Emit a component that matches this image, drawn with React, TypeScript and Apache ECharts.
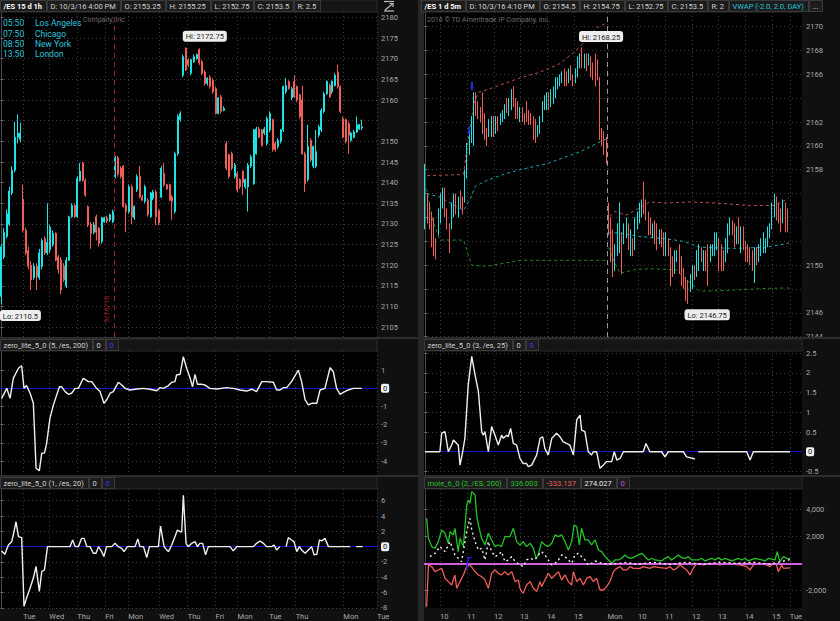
import React, { useEffect, useRef } from "react";
import * as echarts from "echarts";

// ---------------- DATA ----------------
// Left chart: /ES 15 d 1h  — [open, close, low, high]
const leftCandles: number[][] = [
  [2112.5, 2124.5, 2110.5, 2125], [2122, 2128, 2121.5, 2129], [2127, 2132.5, 2126.5, 2133.5],
  [2130, 2138, 2129.5, 2139], [2137.5, 2143, 2137, 2144], [2143, 2151, 2142.5, 2154.75],
  [2151, 2152, 2149.5, 2156.5], [2150.5, 2152, 2149.75, 2154.5], [2136, 2128.5, 2128, 2139.5],
  [2128.5, 2123, 2122.5, 2129], [2123.5, 2119.75, 2119, 2124.5], [2120, 2116.5, 2114, 2121],
  [2117, 2119.75, 2116.5, 2120.5], [2119.75, 2117.25, 2114, 2120.5], [2117, 2123, 2116.5, 2124],
  [2119.75, 2126, 2119, 2126.5], [2126.5, 2123, 2122.5, 2127], [2123, 2125.5, 2122.5, 2135],
  [2123.75, 2129.25, 2123, 2129.75], [2125, 2127.75, 2124.5, 2128.5], [2127.75, 2121.25, 2121, 2128],
  [2122, 2119, 2118, 2122.5], [2121.25, 2114, 2113, 2122], [2119.75, 2116.5, 2116, 2120.5],
  [2115, 2121.25, 2114.5, 2122], [2121.25, 2131.75, 2121, 2132], [2131.75, 2134.5, 2131.5, 2135],
  [2134.5, 2131.75, 2131.5, 2135], [2131.75, 2141, 2131.5, 2141.5], [2140.5, 2142.75, 2140.25, 2144.75],
  [2144.75, 2140.5, 2140.25, 2145], [2140.5, 2137, 2136.5, 2141], [2134.25, 2129.75, 2129.25, 2134.5],
  [2130, 2127.75, 2124, 2130.5], [2128, 2129.75, 2127.5, 2130.5], [2131.75, 2128, 2126, 2132.25],
  [2129, 2125.25, 2124.5, 2129.25], [2125.75, 2131.5, 2125.25, 2131.75], [2130.5, 2131.5, 2130.25, 2131.75],
  [2131.5, 2130.75, 2130.25, 2132], [2131, 2132.25, 2130.5, 2132.5], [2130.5, 2133, 2130.25, 2133.5],
  [2141.5, 2146, 2141, 2146.5], [2146, 2142, 2141.5, 2146.5], [2143.5, 2141.5, 2141, 2144],
  [2144, 2134.25, 2134, 2144.25], [2134.5, 2133, 2128, 2135], [2133, 2139, 2132.5, 2139.5],
  [2139, 2131.75, 2130, 2139.5], [2131.5, 2134.25, 2131, 2134.5], [2138.25, 2141.5, 2137.75, 2142],
  [2141.5, 2136.5, 2136.25, 2144], [2136.5, 2135.75, 2135.5, 2137], [2135.5, 2139, 2135, 2139.5],
  [2135.75, 2132.25, 2131.75, 2136.25], [2131.75, 2137.5, 2131.5, 2137.75], [2136.25, 2137.75, 2135.75, 2138.25],
  [2137.75, 2131.75, 2129.75, 2138.25], [2133.25, 2130.25, 2129.75, 2133.5], [2136.5, 2143.5, 2136.25, 2144],
  [2142.25, 2139.5, 2139, 2144.75], [2139.5, 2138.5, 2138.25, 2139.75], [2139.5, 2135.75, 2135.5, 2139.75],
  [2136.5, 2135.5, 2131, 2137], [2133, 2147, 2132.5, 2147.5], [2147, 2156, 2146.5, 2156.5],
  [2155.25, 2156.75, 2154.75, 2157.25],
  [2166, 2170.5, 2165.5, 2171], [2172.5, 2167.25, 2167, 2172.75], [2169.75, 2168.5, 2168, 2170],
  [2166.5, 2169.75, 2166, 2170], [2169.25, 2170.5, 2169, 2171], [2170, 2171, 2169.75, 2171.25],
  [2172.25, 2169, 2168.5, 2172.5], [2169.25, 2166.5, 2166, 2169.75], [2166.75, 2164, 2163.5, 2167.25],
  [2164, 2165.25, 2163.5, 2165.5], [2165.5, 2163.25, 2162.75, 2166], [2164.75, 2162, 2161.5, 2165.25],
  [2162.75, 2156.75, 2156.5, 2163.25], [2156.75, 2160.5, 2156.5, 2160.75], [2160.75, 2157.25, 2156.75, 2161.25],
  [2157.5, 2158, 2157.25, 2158.5], [2149.5, 2143.5, 2143, 2150], [2146.75, 2141.5, 2141, 2147],
  [2147, 2143.5, 2143, 2147.5], [2141.5, 2144.25, 2141, 2144.75], [2142.25, 2138.25, 2137.75, 2142.75],
  [2140.75, 2139, 2138.5, 2141], [2142.75, 2140, 2137, 2143], [2139, 2140.75, 2138.5, 2141],
  [2139, 2144.25, 2133, 2144.75], [2144, 2146.25, 2143.5, 2146.75], [2139.75, 2152.75, 2139.5, 2153],
  [2147, 2153, 2146.75, 2153.5], [2153, 2151, 2150.75, 2153.5], [2152.75, 2149, 2148.75, 2153],
  [2152, 2153, 2151.5, 2153.5], [2149.5, 2155.5, 2149, 2156], [2152.75, 2156.75, 2152.25, 2157.25],
  [2155.25, 2148, 2147.5, 2155.5], [2149.5, 2148, 2147.5, 2150], [2148.75, 2150.25, 2148.25, 2150.75],
  [2150, 2152.75, 2149.5, 2153], [2152.75, 2163.25, 2152.25, 2163.5], [2162, 2163.5, 2161.5, 2165.25],
  [2164.5, 2162.75, 2162.5, 2164.75], [2160.5, 2162.75, 2160, 2163.25], [2164.5, 2160.75, 2160.5, 2166],
  [2163.25, 2160, 2159.5, 2163.5], [2161.25, 2156, 2155.5, 2161.5], [2160, 2147, 2146.75, 2163.5],
  [2147, 2139.75, 2137.75, 2147.5], [2140.75, 2148.75, 2140.25, 2154], [2150.25, 2145.5, 2145, 2150.75],
  [2144, 2148.75, 2143.5, 2149], [2144, 2147.5, 2143.5, 2152.75], [2151.5, 2153.5, 2151, 2154],
  [2152.75, 2157.5, 2152.25, 2158], [2157.25, 2161.5, 2156.75, 2162], [2161.5, 2164.5, 2161.25, 2164.75],
  [2163.5, 2160.75, 2160.5, 2164], [2162, 2164.5, 2161.5, 2164.75], [2163.5, 2166, 2163.25, 2166.5],
  [2166.75, 2163.25, 2162.75, 2168.5], [2163.25, 2157.25, 2156.75, 2163.5], [2155.5, 2151, 2150.75, 2156],
  [2155.25, 2150, 2149.5, 2155.5], [2154.25, 2151.5, 2147, 2154.75], [2150.25, 2152, 2149.75, 2152.25],
  [2151, 2152.25, 2150.75, 2152.75], [2152.25, 2154, 2152, 2156], [2153, 2154, 2152.75, 2154.25],
  [2153.25, 2153.5, 2152.75, 2155.25],
];
const leftLast = 2153.5;
const leftExpiryIdx = 41.5;
const leftExpiryText = "9/16/16";
const leftDayIdx = [8.1, 17.7, 28, 38.3, 46.8, 58.2, 68.7, 79, 87.1, 98.8, 108.5, 126.1, 138.5];
const leftDayLabels = ["Tue", "Wed", "Thu", "Fri", "Mon", "Wed", "Thu", "Fri", "Mon", "Tue", "Thu", "Mon", "Tue"];
const leftPriceTicks = [2105, 2110, 2115, 2120, 2125, 2130, 2135, 2140, 2145, 2150, 2155, 2160, 2165, 2170, 2175, 2180];
const leftPriceLabels = [2105, 2110, 2115, 2120, 2125, 2130, 2135, 2140, 2145, 2150, 2160, 2165, 2170, 2175, 2180];

// zero_lite_5_0 (5, /es, 200)  [bar index, value]
const leftZero200: (number | null)[][] = [
  [0.1, -0.55], [2, 0], [3.2, -0.55], [4.4, 0.55], [6.3, 1.1], [7.5, 1.24], [8.35, 0], [9.3, 0.15],
  [10.6, -0.27], [11.8, -0.82], [12.8, -4.39], [14, -4.53], [14.9, -3.56], [15.9, -3.56], [16.7, -3.02],
  [17.9, -1.65], [19.2, -0.91], [20.4, -0.37], [21.4, 0.09], [22.2, 0.09], [23.5, -0.18], [24.7, -0.33],
  [25.9, -0.27], [27.2, 0], [28.4, 0], [30.2, 0.55], [32.1, 0.37], [33.3, 0.37], [35.1, 0], [36.4, -0.18],
  [37.8, -0.82], [38.8, -0.64], [40.1, -0.27], [41.3, -0.18], [43.1, 0.33], [44.4, 0.18], [45.6, 0],
  [47.4, -0.09], [49.9, -0.04], [52.4, 0], [54.8, -0.05], [57.3, -0.13], [58.5, 0.04], [59.7, 0],
  [61.6, 0.15], [62.8, 0.33], [64, 0.37], [64.6, 0.73], [65.9, 0.77], [67.1, 1.74], [68.3, 1.1],
  [69.6, 0.55], [70.5, 0.09], [71.4, 0.77], [72.3, 0.22], [73.9, 0.22], [75.1, 0.18], [76.9, 0],
  [79.4, -0.04], [83.1, 0.04], [85.5, 0], [88, -0.09], [90.5, -0.15], [92.3, -0.05], [94.1, -0.18],
  [96, 0.37], [97.8, 0.37], [100.3, 0.33], [101.5, -0.09], [102.7, -0.09], [104, 0.04], [105.2, 0.04],
  [107, 0.37], [109.5, 1.0], [110.7, 0.37], [112, -0.64], [113.2, -0.91], [114.4, -0.82], [116.3, -0.82],
  [117.5, -0.09], [119.3, 0], [121.2, 1.13], [122.4, 0.91], [123.6, 0], [124.9, -0.33], [126.1, -0.22],
  [127.9, -0.09], [129.8, 0], [132.9, 0],
];
const leftZero200Ticks = [-4, -3, -2, -1, 0, 1];

// zero_lite_5_0 (1, /es, 20)
const leftZero20: (number | null)[][] = [
  [0.1, -0.56], [1.3, -1.0], [2.6, 0.22], [3.8, 0.65], [4.4, 1.52], [5.4, 3.25], [6.3, 1.3], [7.5, 1.17],
  [8.35, -7.8], [9.3, -6.7], [10.6, -5.4], [11.8, -4.1], [12.8, -2.6], [14, -5.84], [14.9, -3.25],
  [15.9, -3.03], [17, 0], [25.3, 0], [26.3, 0.87], [27.2, 0], [28.4, 0], [29.6, 1.08], [30.5, 1.08],
  [31.5, 0], [32.7, 0], [33.9, -0.87], [34.9, -0.87], [35.8, 0], [37, -0.65], [37.8, -1.3], [38.8, 0],
  [40.7, 0], [41.9, 0.43], [43.1, 0], [44.4, -0.22], [45.2, -0.65], [46.5, 0], [49.3, 0], [50.3, 1.0],
  [51.1, 0], [52.4, 0], [53.6, -1.43], [54.6, 0], [57.9, 0], [58.7, 2.68], [60, 0], [61, -0.43],
  [61.6, -0.65], [62.8, 0.22], [64, 1.3], [64.9, 2.16], [65.9, 1.95], [66.5, 1.95], [67.1, 6.7],
  [68.1, 0.43], [68.9, 0], [70.2, 0.43], [71.4, 0.65], [72.3, 0], [73.2, 0.43], [74.2, 0.43],
  [75.3, -1.08], [76.3, 0], [84.3, 0], [85.5, -0.56], [86.8, 0], [92.9, 0], [94.1, 0.43], [95.4, 0.74],
  [96.6, 0.43], [97.8, 0], [99.7, 0], [100.5, 0.22], [101.5, -0.43], [102.7, 0], [103.8, null],
  [105, 0], [105.8, 1.17], [107, 0.87], [107.9, 0.65], [108.9, -0.65], [109.9, 0], [110.7, -0.43],
  [112, -0.87], [113.2, -0.43], [114.4, 0], [115.3, -1.08], [116.3, -1.0], [117.3, 0.87], [118.1, 0.74],
  [119.3, 1.08], [120.6, 0], [128.6, 0], [129.7, null], [130.8, 0], [133.2, 0],
];
const leftZero20Ticks = [-8, -6, -4, -2, 0, 2, 4, 6];

// Right chart: /ES 1 d 5m — [open, close, low, high]
const rightCandles: number[][] = [
  [2153.25, 2156, 2153, 2158.5], [2155.5, 2153.75, 2153.5, 2156], [2155, 2153.25, 2153, 2155.25],
  [2154.25, 2152.75, 2151.5, 2154.5], [2153.75, 2151, 2150.75, 2154], [2152, 2150.75, 2150.5, 2152.25],
  [2152.75, 2154.5, 2152.5, 2154.75], [2153.75, 2155.75, 2153.5, 2156], [2155, 2156.25, 2154.75, 2156.5],
  [2156.25, 2154.25, 2154, 2156.5], [2154.5, 2153.25, 2153, 2154.75], [2153.25, 2151.25, 2151, 2153.5],
  [2153.25, 2155, 2153, 2155.25], [2154.25, 2155.75, 2154, 2156], [2155.75, 2154.5, 2154.25, 2156],
  [2154.25, 2155.5, 2154, 2155.75], [2156, 2155, 2154.75, 2156.25], [2155.5, 2154.5, 2154.25, 2155.75],
  [2155.5, 2157.75, 2155.25, 2158], [2157.5, 2160, 2157.25, 2160.25], [2159.5, 2160.5, 2159.25, 2161],
  [2160.5, 2162.25, 2160.25, 2162.5], [2160.25, 2164.25, 2160, 2164.5], [2164.25, 2162.75, 2162.5, 2164.5],
  [2163.5, 2162.5, 2162.25, 2163.75], [2163, 2162.25, 2162, 2163.25], [2164.25, 2161.25, 2161, 2164.5],
  [2162.5, 2160.75, 2160.5, 2162.75], [2161.25, 2160.5, 2160, 2161.5], [2161, 2162, 2160.75, 2162.25],
  [2161, 2162.25, 2160.75, 2162.5], [2162.25, 2161, 2160.75, 2162.5], [2161.25, 2162.25, 2161, 2162.5],
  [2162.25, 2161.5, 2161.25, 2162.5], [2162, 2162.5, 2161.75, 2162.75], [2162.25, 2162.75, 2162, 2163],
  [2162.5, 2163.25, 2162.25, 2163.5], [2163.75, 2163, 2162.75, 2164], [2162.75, 2163.75, 2162.5, 2164],
  [2163.25, 2164.25, 2163, 2164.75], [2164.75, 2163.5, 2163.25, 2165], [2163.75, 2162.5, 2162.25, 2164],
  [2163.5, 2162.5, 2162.25, 2163.75], [2162.25, 2163, 2162, 2163.25], [2163, 2162.25, 2162, 2163.25],
  [2162.5, 2162, 2161.75, 2162.75], [2163.5, 2162.25, 2162, 2163.75], [2162.75, 2162, 2161.75, 2163],
  [2162.5, 2162, 2161.75, 2162.75], [2162.25, 2160.75, 2160.5, 2162.5], [2162, 2160.75, 2160.25, 2162.25],
  [2161, 2161.5, 2160.75, 2161.75], [2161.25, 2162.25, 2161, 2162.5], [2162.25, 2163.5, 2162, 2163.75],
  [2163.25, 2164, 2163, 2164.25], [2163.25, 2164.25, 2163, 2164.5], [2164.25, 2163.25, 2163, 2164.5],
  [2163.5, 2164.5, 2163.25, 2164.75], [2163.75, 2164.75, 2163.5, 2165], [2164.25, 2165.5, 2164, 2165.75],
  [2165, 2165.5, 2164.75, 2165.75], [2165.25, 2165.75, 2165, 2166], [2165.5, 2166, 2165.25, 2166.25],
  [2166.25, 2165.25, 2165, 2166.5], [2166, 2165.25, 2165, 2166.25], [2165.5, 2166.25, 2165.25, 2166.5],
  [2166.5, 2165.75, 2165.5, 2166.75], [2165.75, 2165.25, 2165, 2166], [2165.5, 2166.25, 2165.25, 2166.5],
  [2166, 2167.25, 2165.75, 2167.5], [2166.75, 2167.5, 2166.5, 2167.75], [2167.75, 2166.75, 2166.5, 2168.25],
  [2166.75, 2167.5, 2166.5, 2167.75], [2167.5, 2166.5, 2166.25, 2167.75], [2167, 2167.5, 2166.75, 2167.75],
  [2167.25, 2166, 2165.75, 2167.5], [2166.75, 2165.75, 2165.5, 2167], [2167.5, 2165.25, 2165, 2167.75],
  [2167, 2165.75, 2165.5, 2167.25], [2165.5, 2160.75, 2160.5, 2165.75], [2161.25, 2160.25, 2160, 2161.5],
  [2161, 2159.5, 2159.25, 2161.25], [2160.5, 2159, 2158.5, 2160.75],
  // Monday
  [2155, 2152.75, 2152.5, 2155.25], [2153.75, 2150.5, 2150.25, 2154], [2152.75, 2149.25, 2149, 2153],
  [2149.75, 2151.5, 2149.5, 2151.75], [2151, 2153.25, 2150.75, 2153.5], [2151.25, 2152.75, 2151, 2155.25],
  [2152.5, 2149.5, 2149.25, 2152.75], [2152, 2153.25, 2151.75, 2153.5], [2152.5, 2153.75, 2152.25, 2154],
  [2153.25, 2151.5, 2151.25, 2153.5], [2151, 2152.75, 2150.75, 2153], [2152, 2151, 2150.75, 2152.25],
  [2151.5, 2153.75, 2151.25, 2154], [2153.25, 2154.25, 2153, 2154.5], [2153.75, 2155, 2153.5, 2155.25],
  [2154.25, 2155.25, 2154, 2155.5], [2155.5, 2154.5, 2154.25, 2157], [2155.25, 2154, 2153.75, 2155.5],
  [2154.25, 2152.75, 2152.5, 2154.5], [2153.75, 2152.75, 2152.5, 2154], [2152.5, 2153.25, 2152.25, 2153.5],
  [2153.5, 2152, 2151.75, 2153.75], [2152.75, 2151.5, 2151.25, 2153.5], [2152, 2152.75, 2151.75, 2153],
  [2152.75, 2151.75, 2151.5, 2153], [2152.5, 2151, 2150.75, 2152.75], [2151, 2152.5, 2150.75, 2152.75],
  [2152, 2151, 2150.75, 2152.25], [2151.25, 2149.75, 2148.25, 2151.5], [2150.5, 2149.25, 2149, 2150.75],
  [2149.5, 2151, 2149.25, 2151.25], [2150.5, 2151, 2150.25, 2151.25], [2151.5, 2149.5, 2149.25, 2151.75],
  [2150.5, 2148.5, 2148.25, 2150.75], [2149.5, 2148.25, 2148, 2149.75], [2148.75, 2147.5, 2147, 2149],
  [2148.5, 2147.75, 2146.75, 2148.75], [2148, 2149, 2147.75, 2149.25], [2148.25, 2149.75, 2148, 2150],
  [2149.75, 2149, 2148.75, 2150], [2149.25, 2151, 2149, 2151.25], [2149.75, 2151.5, 2149.5, 2151.75],
  [2151.25, 2150.5, 2150.25, 2151.5], [2149.75, 2151, 2149.5, 2151.25], [2151, 2149.75, 2149.5, 2151.25],
  [2151.5, 2148.75, 2148.25, 2151.75], [2150.5, 2151.5, 2150.25, 2151.75], [2151, 2151.5, 2150.75, 2151.75],
  [2151, 2152.5, 2150.75, 2152.75], [2151.5, 2152.5, 2151.25, 2152.75], [2152, 2149.75, 2149.5, 2152.25],
  [2151.5, 2149.75, 2149.5, 2151.75], [2151, 2149.75, 2149.5, 2151.25], [2150.5, 2152, 2150.25, 2152.25],
  [2151.25, 2153.25, 2151, 2153.5], [2152.75, 2153.75, 2152.5, 2154], [2153.5, 2152.75, 2152.5, 2153.75],
  [2153.25, 2151.75, 2151.5, 2153.5], [2152, 2153, 2151.75, 2153.25], [2153.75, 2152, 2151.75, 2154],
  [2151.25, 2153, 2151, 2153.25], [2153, 2151.5, 2151.25, 2153.25], [2151.75, 2150.5, 2150.25, 2152],
  [2151.5, 2150.5, 2150.25, 2151.75], [2151.25, 2150.25, 2150, 2151.5], [2151, 2149.75, 2149.5, 2151.25],
  [2149.75, 2151.25, 2148.5, 2151.5], [2151.25, 2150.25, 2150, 2151.5], [2150.5, 2151.5, 2150.25, 2151.75],
  [2151, 2152, 2150.75, 2152.25], [2151.25, 2152.5, 2151, 2152.75], [2151.25, 2152, 2151, 2152.25],
  [2151.75, 2153, 2151.5, 2153.25], [2152.5, 2153.25, 2152.25, 2153.5], [2153.25, 2155, 2153, 2155.25],
  [2154.25, 2155.75, 2154, 2156], [2155.5, 2154, 2153.75, 2155.75], [2155, 2153.75, 2153.5, 2155.25],
  [2154.5, 2153, 2152.75, 2154.75], [2153.75, 2155.25, 2153.5, 2155.5], [2155, 2153.75, 2152.75, 2155.25],
  [2154.5, 2153.5, 2152.75, 2154.75],
];
const rightSessionBreak = 82.5;
const rightHourIdx = [6.7, 19, 31.2, 42.9, 55.1, 67.4, 82.5, 96.3, 108.5, 120.7, 132.5, 144.7, 156.9, 165];
const rightHourLabels = ["10", "11", "12", "13", "14", "15", "Mon", "10", "11", "12", "13", "14", "15", "Tue"];
const rightPriceTicks = [2144, 2146, 2148, 2150, 2152, 2154, 2156, 2158, 2160, 2162, 2164, 2166, 2168, 2170];
const rightPriceLabels = [2144, 2146, 2150, 2158, 2160, 2162, 2166, 2168, 2170];

// VWAP (-2.0, 2.0, DAY)
const vwapUpper: (number | null)[][] = [
  [0.9, 2157.5], [17.3, 2157.6], [19.5, 2160.5], [22, 2163.5], [24.1, 2164.5], [27.9, 2164.7], [36.9, 2165.3],
  [42.9, 2165.7], [50.5, 2166.1], [55, 2166.4], [61, 2166.9], [67, 2167.8], [73.1, 2168.9], [77.6, 2169.9],
  [82, 2170.3], [82.5, null], [83.6, 2154.1], [85.9, 2154.5], [91.2, 2154.2], [101.7, 2155.3], [109.3, 2155.2],
  [119.8, 2155.3], [131.9, 2155.2], [147, 2155.0], [158.3, 2155.0], [164.6, 2155.62],
];
const vwapMid: (number | null)[][] = [
  [0.7, 2156], [6.7, 2155.7], [17.3, 2154.6], [20.3, 2155.5], [22.6, 2156.6], [27.9, 2157.1], [36.9, 2157.7],
  [42.9, 2158], [55, 2158.5], [62.5, 2159], [70.1, 2159.5], [77.6, 2160.2], [82.1, 2160.6], [82.5, null],
  [83, 2152.7], [88.2, 2152.7], [97.2, 2152.4], [109.3, 2152.2], [116.8, 2152], [124.4, 2151.5],
  [139.4, 2151.4], [154.5, 2151.5], [164.6, 2151.85],
];
const vwapLower: (number | null)[][] = [
  [0.7, 2156.4], [3, 2154], [6.7, 2152.1], [17.3, 2152.1], [21.1, 2150], [27.9, 2149.9], [42.9, 2150.4],
  [62.5, 2150.4], [77.6, 2150.4], [82, 2150.4], [82.5, null], [83, 2151.5], [85, 2150.5], [88.2, 2149.3],
  [94.2, 2149.6], [101.7, 2149.7], [113.8, 2149.6], [118, 2148.8], [124.4, 2147.8], [139.4, 2147.9],
  [154.5, 2148.05], [164.6, 2148.08],
];
const signalArrows: number[][] = [[21.2, 2165.0], [19.9, 2161.25]];
const signalLevel = 2164.5;

// zero_lite_5_0 (3, /es, 25)
const rightZero25: (number | null)[][] = [
  [0, 0], [6.7, 0], [7.5, 0.47], [9, 0.51], [10.5, 0], [12, 0.17], [12.8, 0.3], [14.3, 0.21], [15, 0.17],
  [15.8, -0.34], [17, 0], [18, 0.34], [19.5, 1.69], [21.1, 2.42], [22.6, 1.95], [24.1, 1.53], [25.6, 0.51],
  [26.3, 0.42], [27.1, 0.51], [28.6, 0], [30.1, 0.64], [31.6, 0.42], [33.1, 0.17], [34.6, 0.42], [35.4, 0.34],
  [36.9, 0.42], [37.6, 0.38], [38.7, 0.59], [39.9, 0.21], [41.4, 0.17], [42.9, -0.17], [44.4, -0.3],
  [45.9, -0.3], [46.7, -0.38], [48.2, -0.34], [49, -0.25], [50.5, -0.08], [52, 0.34], [53.2, 0.38],
  [54.2, 0.08], [55.7, -0.08], [57.3, 0.34], [58, 0.38], [59.5, 0.47], [61, 0.38], [62.5, 0.25], [64, 0.21],
  [65.5, 0.17], [67.1, -0.08], [68.6, 0.81], [70.1, 0.93], [70.8, 0.55], [72.3, 0.51], [73.8, 0], [75.3, -0.08],
  [76.1, 0], [77.6, 0], [79.1, -0.42], [80.6, -0.34], [82.1, -0.25], [84.4, -0.25], [85.6, 0], [86.7, -0.21],
  [88.2, -0.17], [89.7, 0], [98.7, 0], [99.9, 0.21], [101.7, 0], [107, 0], [108.5, -0.13], [110, 0],
  [116.8, 0], [118.3, -0.13], [121.3, -0.17], [122.1, -0.19], [122.8, null], [123.6, 0], [145.5, 0],
  [147, -0.21], [148.5, 0], [165.1, 0],
];
const rightZero25Ticks = [-0.5, 0, 0.5, 1, 1.5, 2, 2.5];

// mole_6_0 (2, /ES, 200)
const moleUpper: number[][] = [
  [0.7, 3335], [1.5, 1853], [3, 1235], [4.5, 1112], [6, 1606], [7.5, 2470], [9, 2223], [10.5, 1482],
  [11.3, 2347], [12.8, 2100], [13.5, 2594], [15, 865], [15.8, 1853], [17.3, 1235], [18, 2594], [18.8, 4323],
  [19.6, 4693], [20.3, 4446], [21.1, 5311], [22.6, 5064], [23.3, 3582], [24.1, 2841], [25.6, 1853],
  [27.1, 1359], [28.6, 2223], [30.1, 1729], [31.6, 1235], [33.1, 1359], [34.6, 1235], [36.1, 1976],
  [38.4, 1976], [39.9, 2594], [41.4, 1606], [42.9, 1359], [44.4, 1606], [45.9, 1235], [47.5, 1482],
  [49, 1112], [50.2, 371], [51.2, 618], [52.7, 1606], [54.2, 1359], [55.7, 1235], [57.3, 1482], [58.8, 2100],
  [60.3, 1976], [61.8, 2100], [63.3, 1606], [64.8, 988], [66.3, 1606], [67.4, 2841], [68.6, 2717],
  [69.8, 1359], [70.8, 2594], [72.3, 1729], [73.8, 1729], [75.3, 1359], [76.9, 1729], [78.4, 988],
  [79.9, 865], [81.4, 494], [82.9, 247], [84.4, 0], [85.9, 247], [87.4, 247], [88.9, 371], [90.4, 618],
  [91.9, 420], [93.4, 371], [94.9, 494], [96.5, 618], [98, 741], [99.5, 494], [101, 247], [102.5, 371],
  [104, 247], [107, 173], [108.5, 371], [110, 494], [111.5, 247], [114.6, 618], [116.1, 420], [117.6, 371],
  [119.1, 494], [120.6, 247], [123.6, 247], [125.1, 371], [126.6, 173], [129.6, 371], [131.1, 247],
  [132.7, 420], [134.2, 247], [135.7, 371], [138.7, 173], [141.7, 371], [143.2, 247], [144.7, 371],
  [146.2, 173], [149.2, 371], [152.3, 247], [153.8, 173], [155.3, 371], [158.3, 247], [159.3, 865],
  [160.5, 124], [162.1, 494], [163.6, 371], [165.1, 336.003],
];
const moleLower: number[][] = [
  [0.7, -3211], [1.5, -124], [3, -247], [4.5, -618], [6, -494], [7.5, -371], [9, -1112], [10.5, -1359],
  [12, -1606], [13.5, -865], [14.3, -1853], [15.8, -1359], [17.3, -865], [18.8, -247], [20.3, -124],
  [22.6, -618], [24.1, -865], [25.6, -988], [27.1, -1235], [28.6, -1853], [30.1, -741], [31.6, -494],
  [33.1, -741], [34.6, -865], [36.1, -618], [37.6, -865], [39.2, -618], [40.7, -1359], [42.2, -1235],
  [42.9, -1853], [43.7, -2100], [44.4, -2223], [45.9, -1606], [47.5, -1359], [49, -1853], [50.5, -2100],
  [52, -1359], [52.7, -1729], [54.2, -1235], [55.7, -741], [57.3, -1112], [58.8, -865], [60.3, -618],
  [61.8, -1235], [63.3, -865], [64.8, -1359], [66.3, -1606], [67.1, -618], [68.6, -1359], [70.1, -1112],
  [71.6, -1606], [73.1, -1112], [74.6, -988], [76.1, -1359], [77.6, -1112], [79.1, -1976], [80.6, -1976],
  [82.1, -1729], [83.6, -1359], [85.2, -618], [86.7, -371], [88.2, -247], [89.7, -494], [91.2, -494],
  [92.7, -247], [94.2, -371], [97.2, -371], [98.7, -247], [101.7, -371], [103.2, -247], [106.3, -321],
  [109.3, -371], [110.8, -247], [112.3, -494], [113.8, -371], [115.3, -124], [118.3, -494], [119.8, -865],
  [121.3, -371], [122.8, 0], [125.9, -124], [128.9, 0], [131.9, 0], [133.4, -124], [136.4, 0], [139.4, -74],
  [142.5, -124], [145.5, -247], [147, -494], [148.5, -124], [151.5, 0], [154.5, -124], [156, -247],
  [157.5, 0], [159, -124], [159.8, -618], [161.3, -124], [162.1, -371], [165.1, -333.137],
];
const moleMid: number[][] = [
  [2.2, 494], [4.5, 741], [6.7, 1235], [9, 865], [11.3, 1606], [13.5, 618], [15, 371], [16.5, 124],
  [18.8, 2347], [20.3, 3335], [21.1, 2470], [22.6, 1606], [24.1, 988], [25.6, 1112], [27.1, 247],
  [28.6, 1606], [30.1, 865], [31.6, 494], [33.1, 618], [34.6, 865], [36.1, 124], [37.6, 247], [39.2, 494],
  [40.7, 124], [42.9, -124], [44.4, -247], [45.9, 247], [47.5, 371], [49.7, 247], [51.2, 618], [52.7, 865],
  [54.2, 618], [55.7, 247], [57.3, -124], [58.8, 0], [60.3, 247], [61.8, 618], [63.3, 494], [64.8, 247],
  [66.3, 0], [67.8, 618], [69.3, 741], [70.8, 494], [72.3, 247], [73.8, -124], [75.3, 0], [76.9, 173],
  [79.9, 0], [82.9, -74], [88.2, 0], [91.2, 74], [95.7, -74], [103.2, 74], [110.8, -74], [118.3, 74],
  [125.9, -74], [133.4, 74], [140.9, 0], [148.5, 74], [156, -74], [165.1, 274.027],
];
const moleSignal: number[][] = [[18.8, -494], [19.6, 420], [21.1, 420]];
const moleTicks = [-2000, 0, 2000, 4000];
const moleLabels = [-2000, 2000, 4000];

// header / legend texts
const leftHeader = ["/ES 15 d 1h", "D: 10/3/16 4:00 PM", "O: 2153.25", "H: 2155.25", "L: 2152.75", "C: 2153.5", "R: 2.5"];
const rightHeader = ["/ES 1 d 5m", "D: 10/3/16 4:10 PM", "O: 2154.5", "H: 2154.75", "L: 2152.75", "C: 2153.5", "R: 2", "VWAP (-2.0, 2.0, DAY)", "..."];
const clockTimes = ["05:50", "07:50", "08:50", "13:50"];
const clockCities = ["Los Angeles", "Chicago", "New York", "London"];

// ---------------- LAYOUT / STYLE ----------------
const FONT = 'Roboto, "Noto Sans", sans-serif';
const FS = 7.5;
const NL = 139;
const NR = 171;
const LX = 0, LW = 377, RX = 424, RW = 378;
const MAIN_T = 12, MAIN_H = 325;
const S1_T = 351, S1_H = 124;
const S2_T = 489, S2_H = 119;
const UP = "#1fe3e3";
const DOWN = "#ef5f59";
const GRIDC = "#3d3d3d";
const LABELC = "#a8a8a8";
const ZERO_BLUE = "#1414d0";

function measure(text: string, size: number, weight: string) {
  const c = document.createElement("canvas").getContext("2d");
  if (!c) return text.length * size * 0.5;
  c.font = `${weight} ${size}px Roboto`;
  return c.measureText(text).width;
}

function headerRow(items: { t: string; c: string; b?: boolean }[], x0: number, y0: number, h: number, xEnd: number) {
  const els: any[] = [
    { type: "rect", z: 100, silent: true, shape: { x: x0, y: y0, width: xEnd - x0, height: h }, style: { fill: "#151515", stroke: "#2a2a2a", lineWidth: 1 } },
  ];
  let x = x0;
  for (const it of items) {
    const w = Math.ceil(measure(it.t, FS, it.b ? "bold" : "normal")) + 7;
    els.push({ type: "rect", z: 101, silent: true, shape: { x: x + 0.5, y: y0 + 0.5, width: w, height: h - 1 }, style: { fill: "#1c1c1c", stroke: "#3a3a3a", lineWidth: 1 } });
    els.push({
      type: "text", z: 102, silent: true, x: x + 3.5, y: y0 + h / 2 + 0.5,
      style: { text: it.t, fill: it.c, font: `${it.b ? "bold" : "normal"} ${FS}px ${FONT}`, textAlign: "left", textVerticalAlign: "middle", align: "left", verticalAlign: "middle" },
    });
    x += w + 1;
  }
  return els;
}

const pairs = (arr: (number | null)[][]) => arr.map((p) => [p[0], p[1] === null ? "-" : p[1]]);

function valueX(gridIndex: number, n: number, ticks: number[], labels: string[] | null) {
  return {
    type: "value", gridIndex, min: -0.5, max: n - 0.5, position: "bottom",
    axisLine: { show: !!labels, lineStyle: { color: "#4a4a4a" } },
    axisTick: { show: false, customValues: ticks },
    axisLabel: labels
      ? {
          show: true, customValues: ticks, color: LABELC, fontSize: FS, fontFamily: FONT, margin: 4.5, align: "left",
          formatter: (v: number) => {
            const i = ticks.findIndex((d) => Math.abs(d - v) < 1e-6);
            return i >= 0 ? labels[i] : "";
          },
        }
      : { show: false },
    splitLine: { show: true, lineStyle: { color: GRIDC, type: [1, 3], width: 1 } },
  };
}

function valueY(gridIndex: number, min: number, max: number, ticks: number[], labels: number[], fmt: (v: number) => string) {
  return {
    type: "value", gridIndex, position: "right", min, max, scale: true,
    axisLine: { show: true, lineStyle: { color: "#4a4a4a" } },
    axisTick: { show: true, length: 2, customValues: ticks, lineStyle: { color: "#777" } },
    axisLabel: { show: true, customValues: labels, color: LABELC, fontSize: FS, fontFamily: FONT, margin: 4, formatter: fmt },
    splitLine: { show: true, lineStyle: { color: GRIDC, type: [1, 3], width: 1 } },
  };
}

function priceTag(value: number, text: string, bg: string, fg: string, dy = 0) {
  return {
    yAxis: value,
    lineStyle: { opacity: 0 },
    label: { show: true, position: "end", distance: 3, formatter: text, backgroundColor: bg, color: fg, fontSize: FS, fontFamily: FONT, padding: [1, 2, 0, 2], borderRadius: 2, offset: [0, dy] },
  };
}

function hiLo(candles: number[][]) {
  let hi = 0, lo = 0;
  candles.forEach((c, i) => {
    if (c[3] > candles[hi][3]) hi = i;
    if (c[2] < candles[lo][2]) lo = i;
  });
  const box = { backgroundColor: "#eeeeee", color: "#222", fontSize: FS, fontFamily: FONT, padding: [2, 3, 1, 3], borderRadius: 3 };
  return {
    symbol: "circle", symbolSize: 1, silent: true, itemStyle: { color: "rgba(0,0,0,0)" },
    data: [
      { coord: [hi, candles[hi][3]], value: candles[hi][3], label: { show: true, position: "top", distance: 5, offset: [19, 0], formatter: `Hi: ${candles[hi][3]}`, ...box } },
      { coord: [lo, candles[lo][2]], value: candles[lo][2], label: { show: true, position: "bottom", distance: 5, offset: [19, 0], formatter: `Lo: ${candles[lo][2]}`, ...box } },
    ],
  };
}

function zeroLine(color: string, width: number, label: boolean) {
  return {
    symbol: ["none", "none"], silent: true,
    data: [{
      yAxis: 0,
      lineStyle: { color, width, type: "solid" },
      label: label
        ? { show: true, position: "end", distance: 4, formatter: "0", backgroundColor: "#f2f2f2", color: "#111", fontSize: FS, fontFamily: FONT, padding: [1, 2, 0, 2], borderRadius: 2 }
        : { show: false },
    }],
  };
}

function buildOption() {
  const candleStyle = { color: UP, color0: DOWN, borderColor: UP, borderColor0: DOWN, borderWidth: 1 };
  const leftPx = (i: number) => LX + ((i + 0.5) * LW) / NL;

  const graphic: any[] = [
    { type: "rect", z: 90, silent: true, shape: { x: 418, y: 0, width: 6, height: 621 }, style: { fill: "#262626" } },
    { type: "rect", z: 90, silent: true, shape: { x: 0, y: 337, width: 418, height: 2 }, style: { fill: "#2c2c2c" } },
    { type: "rect", z: 90, silent: true, shape: { x: 424, y: 337, width: 416, height: 2 }, style: { fill: "#2c2c2c" } },
    { type: "rect", z: 90, silent: true, shape: { x: 0, y: 475, width: 418, height: 2 }, style: { fill: "#2c2c2c" } },
    { type: "rect", z: 90, silent: true, shape: { x: 424, y: 475, width: 416, height: 2 }, style: { fill: "#2c2c2c" } },
    ...headerRow(leftHeader.map((t, i) => ({ t, c: i === 0 ? "#ffffff" : "#d2d2d2", b: i === 0 })), 0, 0, 12, LW),
    ...headerRow(rightHeader.map((t, i) => ({ t, c: i === 0 ? "#ffffff" : t.startsWith("VWAP") ? "#20c8d8" : "#d2d2d2", b: i === 0 })), RX - 3, 0, 12, RX + RW),
    ...headerRow([{ t: "zero_lite_5_0 (5, /es, 200)", c: "#d2d2d2" }, { t: "0", c: "#d2d2d2" }, { t: "0", c: "#3a3aff" }], 0, 339, 12, LW),
    ...headerRow([{ t: "zero_lite_5_0 (3, /es, 25)", c: "#d2d2d2" }, { t: "0", c: "#d2d2d2" }, { t: "0", c: "#3a3aff" }], RX, 339, 12, RX + RW),
    ...headerRow([{ t: "zero_lite_5_0 (1, /es, 20)", c: "#d2d2d2" }, { t: "0", c: "#d2d2d2" }, { t: "0", c: "#3a3aff" }], 0, 477, 12, LW),
    ...headerRow([
      { t: "mole_6_0 (2, /ES, 200)", c: "#26c226" }, { t: "336.003", c: "#26c226" }, { t: "-333.137", c: "#ef5f59" },
      { t: "274.027", c: "#e8e8e8" }, { t: "0", c: "#d050d8" },
    ], RX, 477, 12, RX + RW),
    { type: "text", z: 95, silent: true, x: 83, y: 20, style: { text: "Company, Inc.", fill: "#6f6f6f", font: `normal 7px ${FONT}`, textVerticalAlign: "middle", verticalAlign: "middle" } },
    { type: "text", z: 95, silent: true, x: 427, y: 20, style: { text: "2016 © TD Ameritrade IP Company, Inc.", fill: "#6f6f6f", font: `normal 7px ${FONT}`, textVerticalAlign: "middle", verticalAlign: "middle" } },
    {
      type: "text", z: 95, silent: true, x: leftPx(leftExpiryIdx) - 7, y: 323, rotation: Math.PI / 2,
      style: { text: leftExpiryText, fill: "#a11c1c", font: `normal 7.5px ${FONT}`, textAlign: "left", align: "left", textVerticalAlign: "middle", verticalAlign: "middle" },
    },
  ];
  clockTimes.forEach((t, i) => {
    const y = 23.3 + i * 10.3;
    graphic.push({ type: "text", z: 95, silent: true, x: 3, y, style: { text: t, fill: "#33c6dc", font: `normal 8.5px ${FONT}`, textVerticalAlign: "middle", verticalAlign: "middle" } });
    graphic.push({ type: "text", z: 95, silent: true, x: 35, y, style: { text: clockCities[i], fill: "#33c6dc", font: `normal 8.5px ${FONT}`, textVerticalAlign: "middle", verticalAlign: "middle" } });
  });
  [384, 806].forEach((x) => {
    graphic.push({ type: "polyline", z: 95, silent: true, shape: { points: [[x, 1.5], [x + 10, 1.5]] }, style: { stroke: "#bdbdbd", lineWidth: 1.2, fill: null } });
    graphic.push({ type: "polyline", z: 95, silent: true, shape: { points: [[x + 1, 10], [x + 9, 3.5]] }, style: { stroke: "#bdbdbd", lineWidth: 1.2, fill: null } });
    graphic.push({ type: "polyline", z: 95, silent: true, shape: { points: [[x + 5.5, 3.5], [x + 9, 3.5], [x + 9, 7]] }, style: { stroke: "#bdbdbd", lineWidth: 1.2, fill: null } });
    graphic.push({ type: "polyline", z: 95, silent: true, shape: { points: [[x, 11], [x + 10, 11]] }, style: { stroke: "#bdbdbd", lineWidth: 1.2, fill: null } });
  });

  const gridBase = { show: true, backgroundColor: "#000000", borderWidth: 0, containLabel: false, outerBoundsMode: "none" };

  return {
    animation: false,
    backgroundColor: "#101010",
    textStyle: { fontFamily: FONT },
    grid: [
      { ...gridBase, left: LX, top: MAIN_T, width: LW, height: MAIN_H },
      { ...gridBase, left: LX, top: S1_T, width: LW, height: S1_H },
      { ...gridBase, left: LX, top: S2_T, width: LW, height: S2_H },
      { ...gridBase, left: RX, top: MAIN_T, width: RW, height: MAIN_H },
      { ...gridBase, left: RX, top: S1_T, width: RW, height: S1_H },
      { ...gridBase, left: RX, top: S2_T, width: RW, height: S2_H },
    ],
    xAxis: [
      { type: "category", gridIndex: 0, data: Array.from({ length: NL }, (_, i) => String(i)), show: false, boundaryGap: true },
      valueX(0, NL, leftDayIdx, null),
      valueX(1, NL, leftDayIdx, null),
      valueX(2, NL, leftDayIdx, leftDayLabels),
      { type: "category", gridIndex: 3, data: Array.from({ length: NR }, (_, i) => String(i)), show: false, boundaryGap: true },
      valueX(3, NR, rightHourIdx, null),
      valueX(4, NR, rightHourIdx, null),
      valueX(5, NR, rightHourIdx, rightHourLabels),
    ],
    yAxis: [
      valueY(0, 2102.65, 2181.3, leftPriceTicks, leftPriceLabels, (v) => String(v)),
      valueY(1, -4.76, 2.05, leftZero200Ticks, leftZero200Ticks.filter((v) => v !== 0), (v) => String(v)),
      valueY(2, -8.02, 7.53, leftZero20Ticks, leftZero20Ticks.filter((v) => v !== 0), (v) => String(v)),
      valueY(3, 2143.97, 2171.23, rightPriceTicks, rightPriceLabels, (v) => String(v)),
      valueY(4, -0.59, 2.556, rightZero25Ticks, rightZero25Ticks.filter((v) => v !== 0), (v) => String(v)),
      valueY(5, -3311, 5504, moleTicks, moleLabels, (v) => v.toLocaleString("en-US")),
    ],
    graphic: { elements: graphic },
    series: [
      {
        type: "candlestick", name: "left", xAxisIndex: 0, yAxisIndex: 0, data: leftCandles, barWidth: 1.5,
        itemStyle: candleStyle, markPoint: hiLo(leftCandles),
        markLine: { symbol: ["none", "none"], silent: true, data: [priceTag(leftLast, String(leftLast), "#1fe3e3", "#000")] },
      },
      {
        type: "line", xAxisIndex: 1, yAxisIndex: 0, data: [], silent: true,
        markLine: { symbol: ["none", "none"], silent: true, label: { show: false }, data: [{ xAxis: leftExpiryIdx }], lineStyle: { color: "#a11c1c", type: [5, 4], width: 1 } },
      },
      {
        type: "line", xAxisIndex: 2, yAxisIndex: 1, data: pairs(leftZero200), showSymbol: false, symbol: "none",
        lineStyle: { color: "#f0f0f0", width: 1.4 }, z: 5, markLine: zeroLine(ZERO_BLUE, 1.2, true),
      },
      {
        type: "line", xAxisIndex: 3, yAxisIndex: 2, data: pairs(leftZero20), showSymbol: false, symbol: "none",
        lineStyle: { color: "#f0f0f0", width: 1.4 }, z: 5, markLine: zeroLine(ZERO_BLUE, 1.2, true),
      },
      {
        type: "candlestick", name: "right", xAxisIndex: 4, yAxisIndex: 3, data: rightCandles, barWidth: 1.2,
        itemStyle: candleStyle,
        markPoint: hiLo(rightCandles),
        markLine: {
          symbol: ["none", "none"], silent: true,
          data: [
            priceTag(signalLevel, String(signalLevel), "#1d1dff", "#fff", -5),
            priceTag(2155.62, "2155.62", "#ea5b56", "#fde", 0),
            priceTag(2153.5, "2153.5", "#ea5b56", "#fde", -11),
            priceTag(2151.85, "2151.85", "#1fe3e3", "#033", -11),
            priceTag(2148.08, "2148.08", "#1a9a1a", "#efe", -2),
          ],
        },
      },
      {
        type: "scatter", xAxisIndex: 5, yAxisIndex: 3, data: signalArrows, silent: true, z: 6,
        symbol: "path://M1,0 L3,0 L3,6 L4,6 L2,10 L0,6 L1,6 Z", symbolSize: [4, 9], itemStyle: { color: "#2b3cff" },
      },
      {
        type: "line", xAxisIndex: 5, yAxisIndex: 3, data: pairs(vwapUpper), showSymbol: false, symbol: "none", z: 1,
        lineStyle: { color: "#b8514c", width: 1, type: [3, 3] },
        markLine: { symbol: ["none", "none"], silent: true, label: { show: false }, data: [{ xAxis: rightSessionBreak }], lineStyle: { color: "#9a9a9a", type: [5, 4], width: 1 } },
      },
      { type: "line", xAxisIndex: 5, yAxisIndex: 3, data: pairs(vwapMid), showSymbol: false, symbol: "none", z: 1, lineStyle: { color: "#1aa7b5", width: 1, type: [3, 3] } },
      { type: "line", xAxisIndex: 5, yAxisIndex: 3, data: pairs(vwapLower), showSymbol: false, symbol: "none", z: 1, lineStyle: { color: "#1f8a1f", width: 1, type: [3, 3] } },
      {
        type: "line", xAxisIndex: 6, yAxisIndex: 4, data: pairs(rightZero25), showSymbol: false, symbol: "none",
        lineStyle: { color: "#f0f0f0", width: 1.4 }, z: 5, markLine: zeroLine(ZERO_BLUE, 1.2, true),
      },
      {
        type: "line", xAxisIndex: 7, yAxisIndex: 5, data: moleUpper, showSymbol: false, symbol: "none", z: 4,
        lineStyle: { color: "#25c425", width: 1.3 },
        markLine: {
          symbol: ["none", "none"], silent: true,
          data: [
            { yAxis: 0, lineStyle: { color: "#cf5fd8", width: 2, type: "solid" }, label: { show: false } },
            priceTag(336.003, "336.003", "#22b022", "#f4fff4", 0),
          ],
        },
      },
      { type: "line", xAxisIndex: 7, yAxisIndex: 5, data: moleLower, showSymbol: false, symbol: "none", z: 4, lineStyle: { color: "#ef5f59", width: 1.3 } },
      { type: "line", xAxisIndex: 7, yAxisIndex: 5, data: moleMid, showSymbol: false, symbol: "none", z: 5, lineStyle: { color: "#f2f2f2", width: 1.4, type: [2, 3] } },
      { type: "line", xAxisIndex: 7, yAxisIndex: 5, data: moleSignal, showSymbol: false, symbol: "none", z: 5, lineStyle: { color: "#2323ff", width: 1.4 } },
    ],
  };
}

export default function App() {
  const ref = useRef<HTMLDivElement>(null);
  useEffect(() => {
    document.body.style.margin = "0";
    const el = ref.current;
    if (!el) return;
    const chart = echarts.init(el, null, { renderer: "svg" });
    chart.setOption(buildOption() as any);
    return () => chart.dispose();
  }, []);
  return <div ref={ref} style={{ width: 840, height: 621, background: "#101010" }} />;
}
